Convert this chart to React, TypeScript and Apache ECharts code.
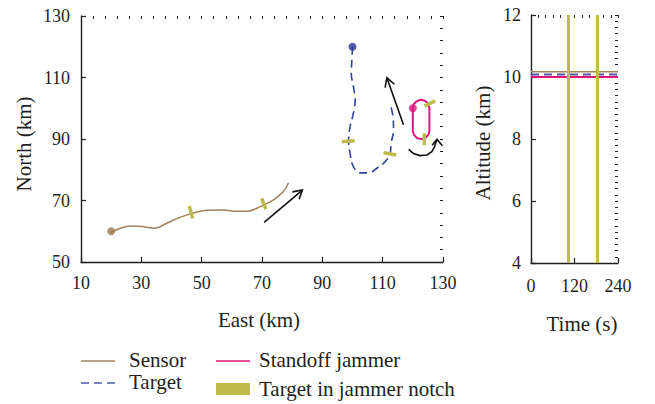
import React, { useEffect, useRef } from "react";
import * as echarts from "echarts";

const FONT = "'Liberation Serif', 'Times New Roman', serif";
const INK = "#231f20";
const SENSOR_COLOR = "#a3825a";
const TARGET_COLOR = "#33409a";
const JAMMER_COLOR = "#e0157f";
const NOTCH_COLOR = "#bdbb4b";

// Ground tracks, [East km, North km]
const sensorTrack: [number, number][] = [
  [19.9, 59.6], [24.0, 61.3], [27.3, 61.7], [30.6, 61.5], [34.5, 61.0],
  [38.4, 62.6], [42.8, 64.5], [46.7, 65.8], [51.7, 66.8], [57.2, 66.9],
  [61.6, 66.5], [65.0, 66.5], [68.3, 67.5], [70.5, 68.5], [73.8, 70.2],
  [77.1, 72.9], [78.8, 75.8],
];
const targetTrack: [number, number][] = [
  [100.0, 120.0], [99.8, 115.7], [99.6, 111.4], [100.3, 107.0], [100.9, 102.7],
  [100.3, 98.4], [99.2, 94.0], [98.7, 89.7], [99.2, 85.3], [100.3, 81.0],
  [102.5, 79.0], [105.3, 79.0], [108.1, 80.5], [110.8, 82.6], [112.5, 85.3],
  [112.8, 88.6], [113.6, 92.9], [113.4, 97.3], [112.5, 101.6],
];
const jammerOrbit: [number, number][] = [
  [120, 100], [120.37, 101.38], [121.38, 102.38], [122.75, 102.75], [124.13, 102.38],
  [125.13, 101.38], [125.5, 100], [125.5, 92.7], [125.13, 91.33], [124.13, 90.32],
  [122.75, 89.95], [121.38, 90.32], [120.37, 91.33], [120, 92.7], [120, 100],
];
const startPoints = {
  sensor: [20, 60],
  target: [100, 120],
  jammer: [120, 100],
};

// Marks where the target sits in the jammer notch
const sensorNotches: [number, number][][] = [
  [[45.9, 68.2], [47.0, 64.2]],
  [[69.9, 70.7], [71.3, 67.2]],
];
const targetNotches: [number, number][][] = [
  [[96.5, 89.1], [100.7, 89.4]],
  [[110.3, 85.5], [114.5, 84.8]],
];
const jammerNotches: [number, number][][] = [
  [[123.9, 100.7], [127.4, 102.4]],
  [[123.8, 88.0], [123.8, 91.9]],
];

// Direction-of-travel arrows (shaft, head)
const arrowShafts: [number, number][][] = [
  [[70.7, 62.9], [83.4, 73.4]],
  [[116.9, 94.6], [111.4, 109.9]],
  [[118.6, 86.6], [120.2, 85.3], [122.4, 84.6], [124.7, 84.8], [126.3, 85.9], [127.2, 87.5], [128.0, 89.9]],
];
const arrowHeads: [number, number][][] = [
  [[80.1, 72.8], [83.4, 73.4], [82.3, 70.4]],
  [[110.8, 106.7], [111.4, 109.9], [113.9, 107.8]],
  [[126.4, 88.0], [128.0, 89.9], [129.8, 87.8]],
];

// Altitude vs time
const timeSpan = [0, 240];
const sensorAltitude = 10.17;
const targetAltitude = 10.08;
const jammerAltitude = 10.0;
const notchTimes = [103, 184];

// Axis ticks
const eastTicks = [10, 30, 50, 70, 90, 110, 130];
const northTicks = [50, 70, 90, 110, 130];
const timeTicks = [0, 120, 240];
const altitudeTicks = [4, 6, 8, 10, 12];

const steps = (from: number, to: number, step: number) => {
  const out: number[] = [];
  for (let v = from; v <= to + 1e-9; v += step) out.push(Math.round(v * 100) / 100);
  return out;
};
const eastMinor = steps(10, 130, 4);
const northMinor = steps(50, 130, 4);
const timeMinor = steps(0, 240, 20);
const altitudeMinor = steps(4, 12, 0.2);

const tickLabel = { fontFamily: FONT, fontSize: 18, color: INK };
const TITLE_FONT = `21px ${FONT}`;

function majorAxis(gridIndex: number, min: number, max: number, ticks: number[], margin: number) {
  return {
    type: "value",
    gridIndex,
    min,
    max,
    axisLine: { show: true, onZero: false, lineStyle: { color: INK, width: 1.4 } },
    axisTick: { show: true, inside: true, length: 5, customValues: ticks, lineStyle: { color: INK, width: 1.2 } },
    axisLabel: { show: true, customValues: ticks, margin, showMinLabel: true, showMaxLabel: true, ...tickLabel },
    splitLine: { show: false },
  };
}
function minorAxis(gridIndex: number, min: number, max: number, ticks: number[]) {
  return {
    type: "value",
    gridIndex,
    min,
    max,
    axisLine: { show: false, onZero: false },
    axisTick: { show: true, inside: true, length: 3, customValues: ticks, lineStyle: { color: INK, width: 1 } },
    axisLabel: { show: false },
    splitLine: { show: false },
  };
}

const trackLines = (data: [number, number][][], color: string, width: number, z: number) => ({
  type: "lines",
  coordinateSystem: "cartesian2d",
  xAxisIndex: 0,
  yAxisIndex: 0,
  polyline: true,
  silent: true,
  z,
  lineStyle: { color, width, opacity: 1, cap: "butt" },
  data: data.map((coords) => ({ coords })),
});

const level = (value: number, color: string, width: number, type: any, z = 3) => ({
  type: "line",
  xAxisIndex: 2,
  yAxisIndex: 2,
  symbol: "none",
  z,
  lineStyle: { color, width, type },
  data: [[timeSpan[0], value], [timeSpan[1], value]],
});

const option: any = {
  animation: false,
  backgroundColor: "#ffffff",
  grid: [
    { left: 81, top: 16, width: 362, height: 246, outerBoundsMode: "none" },
    { left: 531, top: 15, width: 87, height: 248, outerBoundsMode: "none" },
  ],
  xAxis: [
    majorAxis(0, 10, 130, eastTicks, 12),
    minorAxis(0, 10, 130, eastMinor),
    majorAxis(1, 0, 240, timeTicks, 14),
    minorAxis(1, 0, 240, timeMinor),
  ],
  yAxis: [
    majorAxis(0, 50, 130, northTicks, 11),
    minorAxis(0, 50, 130, northMinor),
    majorAxis(1, 4, 12, altitudeTicks, 10),
    minorAxis(1, 4, 12, altitudeMinor),
  ],
  series: [
    {
      type: "line",
      xAxisIndex: 0,
      yAxisIndex: 0,
      smooth: 0.4,
      symbol: "none",
      z: 3,
      lineStyle: { color: SENSOR_COLOR, width: 1.5 },
      data: sensorTrack,
    },
    {
      type: "line",
      xAxisIndex: 0,
      yAxisIndex: 0,
      smooth: 0.4,
      symbol: "none",
      z: 3,
      lineStyle: { color: TARGET_COLOR, width: 1.6, type: [8, 5] },
      data: targetTrack,
    },
    {
      type: "line",
      xAxisIndex: 0,
      yAxisIndex: 0,
      symbol: "none",
      z: 3,
      lineStyle: { color: JAMMER_COLOR, width: 2 },
      data: jammerOrbit,
    },
    trackLines([...sensorNotches, ...targetNotches, ...jammerNotches], NOTCH_COLOR, 3.5, 4),
    trackLines(arrowShafts, "#111111", 1.6, 4),
    trackLines(arrowHeads, "#111111", 1.6, 4),
    {
      type: "scatter",
      xAxisIndex: 0,
      yAxisIndex: 0,
      symbolSize: 8,
      z: 5,
      data: [
        { value: startPoints.sensor, itemStyle: { color: "#9c7a4f" } },
        { value: startPoints.target, itemStyle: { color: "#2e3192" } },
        { value: startPoints.jammer, itemStyle: { color: JAMMER_COLOR } },
      ],
    },
    level(sensorAltitude, SENSOR_COLOR, 1.5, "solid"),
    level(targetAltitude, "#4f58aa", 2, [8, 5]),
    level(jammerAltitude, JAMMER_COLOR, 2, "solid"),
    {
      type: "lines",
      coordinateSystem: "cartesian2d",
      xAxisIndex: 2,
      yAxisIndex: 2,
      silent: true,
      z: 4,
      lineStyle: { color: NOTCH_COLOR, width: 3, opacity: 1 },
      data: notchTimes.map((t) => ({ coords: [[t, 4], [t, 12]] })),
    },
  ],
  graphic: [
    { type: "text", x: 24, y: 144, rotation: Math.PI / 2, style: { text: "North (km)", x: 0, y: 0, font: TITLE_FONT, fill: INK, align: "center", verticalAlign: "middle" } },
    { type: "text", x: 259, y: 320, style: { text: "East (km)", x: 0, y: 0, font: TITLE_FONT, fill: INK, align: "center", verticalAlign: "middle" } },
    { type: "text", x: 483, y: 143, rotation: Math.PI / 2, style: { text: "Altitude (km)", x: 0, y: 0, font: TITLE_FONT, fill: INK, align: "center", verticalAlign: "middle" } },
    { type: "text", x: 582, y: 324, style: { text: "Time (s)", x: 0, y: 0, font: TITLE_FONT, fill: INK, align: "center", verticalAlign: "middle" } },
    // legend
    { type: "line", shape: { x1: 81, y1: 361, x2: 115, y2: 361 }, style: { stroke: SENSOR_COLOR, lineWidth: 1.5 } },
    { type: "text", x: 129, y: 360, style: { text: "Sensor", font: TITLE_FONT, fill: INK, verticalAlign: "middle" } },
    { type: "line", shape: { x1: 81, y1: 383, x2: 115, y2: 383 }, style: { stroke: "#4f58aa", lineWidth: 1.6, lineDash: [8, 5] } },
    { type: "text", x: 129, y: 382, style: { text: "Target", font: TITLE_FONT, fill: INK, verticalAlign: "middle" } },
    { type: "line", shape: { x1: 216, y1: 361, x2: 250, y2: 361 }, style: { stroke: JAMMER_COLOR, lineWidth: 1.5 } },
    { type: "text", x: 259, y: 360, style: { text: "Standoff jammer", font: TITLE_FONT, fill: INK, verticalAlign: "middle" } },
    { type: "rect", shape: { x: 216, y: 383, width: 34, height: 12 }, style: { fill: NOTCH_COLOR } },
    { type: "text", x: 259, y: 389, style: { text: "Target in jammer notch", font: TITLE_FONT, fill: INK, verticalAlign: "middle" } },
  ],
};

export default function App() {
  const ref = useRef<HTMLDivElement>(null);
  useEffect(() => {
    const chart = echarts.init(ref.current!, null, { renderer: "svg" });
    chart.setOption(option);
    return () => chart.dispose();
  }, []);
  return (
    <div
      ref={ref}
      style={{ position: "fixed", left: 0, top: 0, width: 655, height: 404, background: "#fff" }}
    />
  );
}
